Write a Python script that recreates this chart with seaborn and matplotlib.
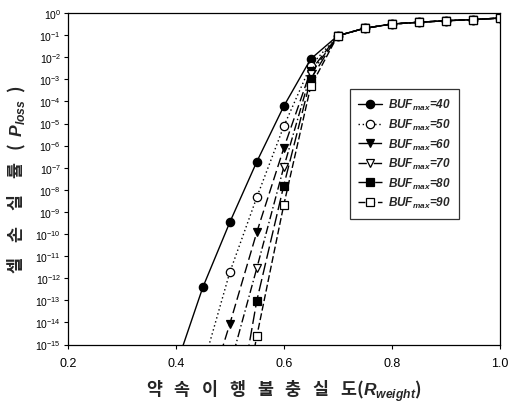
import numpy as np
import pandas as pd
import matplotlib
matplotlib.use("Agg")
import matplotlib.pyplot as plt
import seaborn as sns
from matplotlib.ticker import FixedLocator, FixedFormatter, NullLocator

# ---- data (log10 of cell loss probability) ----
r_tail = [0.75, 0.80, 0.85, 0.90, 0.95, 1.00]
log_tail = [-0.69, -0.50, -0.42, -0.35, -0.30, -0.23]

buf_labels = ["40", "50", "60", "70", "80", "90"]
r_40 = [0.40, 0.45, 0.50, 0.55, 0.60, 0.65, 0.70]
log_40 = [-16.0, -12.41, -9.47, -6.73, -4.22, -2.08, -1.03]
r_50 = [0.45, 0.50, 0.55, 0.60, 0.65, 0.70]
log_50 = [-16.0, -11.73, -8.34, -5.13, -2.38, -1.03]
r_60 = [0.45, 0.50, 0.55, 0.60, 0.65, 0.70]
log_60 = [-18.0, -14.07, -9.92, -6.12, -2.61, -1.03]
r_70 = [0.50, 0.55, 0.60, 0.65, 0.70]
log_70 = [-16.0, -11.55, -6.98, -2.76, -1.03]
r_80 = [0.50, 0.55, 0.60, 0.65, 0.70]
log_80 = [-20.0, -13.02, -7.81, -2.99, -1.03]
r_90 = [0.50, 0.55, 0.60, 0.65, 0.70]
log_90 = [-21.0, -14.63, -8.69, -3.32, -1.03]

series_r = [r_40, r_50, r_60, r_70, r_80, r_90]
series_log = [log_40, log_50, log_60, log_70, log_80, log_90]

xticks = [0.2, 0.4, 0.6, 0.8, 1.0]
xtick_labels = ["0.2", "0.4", "0.6", "0.8", "1.0"]
ytick_exps = list(range(0, -16, -1))

# ---- styles ----
markers = ["o", "o", "v", "v", "s", "s"]
faces = ["black", "white", "black", "white", "black", "white"]
linestyles = ["-", (0, (1, 2)), (0, (7, 3)), (0, (6, 2, 1, 2)), (0, (9, 3)), (0, (5, 2))]

sns.set_theme(style="ticks")
plt.rcParams["font.family"] = ["Liberation Sans", "DejaVu Sans"]
plt.rcParams["mathtext.fontset"] = "custom"
plt.rcParams["mathtext.it"] = "Liberation Sans:italic:bold"
plt.rcParams["mathtext.default"] = "regular"

fig = plt.figure(figsize=(5.09, 4.06), dpi=100)
ax = fig.add_axes([68 / 509, 1 - 345.5 / 406, 431.5 / 509, 331.5 / 406])

for i in range(6):
    xs = list(series_r[i]) + r_tail
    ys = [10.0 ** v for v in list(series_log[i]) + log_tail]
    df = pd.DataFrame({"R": xs, "P": ys})
    sns.lineplot(data=df, x="R", y="P", ax=ax, color="black", linewidth=1.0,
                 linestyle=linestyles[i], marker=markers[i], markersize=6,
                 markerfacecolor=faces[i], markeredgecolor="black",
                 markeredgewidth=0.9, errorbar=None,
                 label=f"$BUF_{{max}}$={buf_labels[i]}")

ax.set_yscale("log")
ax.set_xlim(0.2, 1.0)
ax.set_ylim(1e-15, 1.0)
ax.xaxis.set_major_locator(FixedLocator(xticks))
ax.xaxis.set_major_formatter(FixedFormatter(xtick_labels))
ax.yaxis.set_major_locator(FixedLocator([10.0 ** e for e in ytick_exps]))
ax.yaxis.set_major_formatter(FixedFormatter([f"$10^{{{e}}}$" for e in ytick_exps]))
ax.yaxis.set_minor_locator(NullLocator())
ax.xaxis.set_minor_locator(NullLocator())
ax.tick_params(axis="both", direction="out", length=3, width=0.8, color="black",
               labelcolor="black")
ax.tick_params(axis="y", labelsize=7.5, pad=2)
ax.tick_params(axis="x", labelsize=9, pad=6)
for sp in ax.spines.values():
    sp.set_visible(True)
    sp.set_color("black")
    sp.set_linewidth(0.9)

kfam = ["Noto Sans CJK KR", "DejaVu Sans"]
ax.set_xlabel("약   속   이   행   불   충   실   도($\\mathit{R}_{\\mathit{weight}}$)",
              family=kfam, fontsize=12.5, fontweight="bold", labelpad=6)
ax.set_ylabel("셀    손    실    률   (  $\\mathit{P}_{\\mathit{loss}}$  )",
              family=kfam, fontsize=12.5, fontweight="bold", labelpad=5)

leg = ax.legend(loc="upper left", bbox_to_anchor=(0.6535, 0.7707),
                prop={"family": "Liberation Sans", "weight": "bold",
                      "style": "italic", "size": 8.5},
                frameon=True, fancybox=False, edgecolor="black",
                handlelength=2.0, labelspacing=0.38, borderpad=0.7,
                handletextpad=0.5, borderaxespad=0)
leg.get_frame().set_linewidth(0.9)

fig.savefig("out.png", dpi=100, facecolor="white")
